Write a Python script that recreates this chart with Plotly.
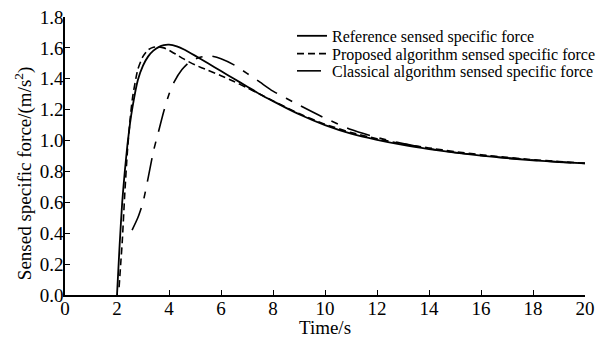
import plotly.graph_objects as go

# Reference sensed specific force
t_ref = [2.0, 2.1, 2.2, 2.3, 2.4, 2.5, 2.6, 2.8, 3.0, 3.2, 3.4, 3.6, 3.8, 4.0, 4.3, 4.6,
         5.0, 5.5, 6.0, 6.5, 7.0, 7.5, 8.0, 9.0, 10.0, 11.0, 12.0, 13.0, 14.0, 15.0,
         16.0, 17.0, 18.0, 19.0, 20.0]
f_ref = [0.0, 0.32, 0.6, 0.8, 0.97, 1.11, 1.22, 1.39, 1.485, 1.545, 1.582, 1.605, 1.618, 1.621, 1.61, 1.588,
         1.55, 1.5, 1.45, 1.4, 1.35, 1.3, 1.255, 1.17, 1.1, 1.045, 1.005, 0.972, 0.945, 0.922,
         0.902, 0.886, 0.872, 0.861, 0.852]

# Proposed algorithm sensed specific force
t_prop = [2.08, 2.15, 2.2, 2.3, 2.4, 2.5, 2.6, 2.8, 3.0, 3.2, 3.4, 3.6, 3.8, 4.0, 4.3, 4.6,
          5.0, 5.5, 6.0, 6.5, 7.0, 7.5, 8.0, 9.0, 10.0, 11.0, 12.0, 13.0, 14.0, 15.0,
          16.0, 17.0, 18.0, 19.0, 20.0]
f_prop = [0.05, 0.22, 0.34, 0.66, 0.93, 1.13, 1.28, 1.46, 1.545, 1.588, 1.604, 1.606, 1.6, 1.585, 1.555, 1.525,
          1.49, 1.455, 1.42, 1.382, 1.342, 1.3, 1.257, 1.175, 1.106, 1.052, 1.012, 0.978, 0.952, 0.928,
          0.908, 0.891, 0.876, 0.864, 0.853]

# Classical algorithm sensed specific force
t_cls = [2.58, 2.8, 3.0, 3.2, 3.4, 3.6, 3.8, 4.0, 4.2, 4.5, 4.8, 5.2, 5.6, 6.0, 6.5, 7.0,
         7.5, 8.0, 9.0, 10.0, 11.0, 12.0, 13.0, 14.0, 15.0, 16.0, 17.0, 18.0, 19.0, 20.0]
f_cls = [0.42, 0.5, 0.6, 0.76, 0.93, 1.06, 1.19, 1.3, 1.38, 1.46, 1.51, 1.54, 1.548, 1.53, 1.49, 1.435,
         1.378, 1.32, 1.23, 1.145, 1.072, 1.02, 0.98, 0.948, 0.923, 0.903, 0.887, 0.873, 0.861, 0.852]

x_ticks = list(range(0, 21, 2))
y_ticks = [round(i * 0.2, 1) for i in range(10)]

serif = "Liberation Serif"
leg_font = dict(family=serif, size=16, color="black")

fig = go.Figure()
fig.add_trace(go.Scatter(x=t_ref, y=f_ref, mode="lines", name="Reference sensed specific force",
                         legend="legend",
                         line=dict(color="black", width=1.8, shape="spline", smoothing=0.6)))
fig.add_trace(go.Scatter(x=t_prop, y=f_prop, mode="lines", name="Proposed algorithm sensed specific force",
                         legend="legend2",
                         line=dict(color="black", width=1.6, dash="7px,4px", shape="spline", smoothing=0.6)))
fig.add_trace(go.Scatter(x=t_cls, y=f_cls, mode="lines", name="Classical algorithm sensed specific force",
                         legend="legend3",
                         line=dict(color="black", width=1.6, dash="24px,10px,7px,10px", shape="spline", smoothing=0.6)))

leg_common = dict(x=0.4365, xanchor="left", yanchor="middle", bgcolor="rgba(0,0,0,0)",
                  font=leg_font, borderwidth=0, itemwidth=30)

fig.update_layout(
    width=611, height=338,
    margin=dict(l=65, r=26, t=17, b=43, autoexpand=False),
    paper_bgcolor="white", plot_bgcolor="white",
    font=dict(family=serif, color="black"),
    showlegend=True,
    legend=dict(y=0.932, **leg_common),
    legend2=dict(y=0.868, **leg_common),
    legend3=dict(y=0.806, **leg_common),
    annotations=[dict(text="Sensed specific force/(m/s<sup>2</sup>)", textangle=-90,
                      xref="paper", yref="paper", x=-0.0795, y=0.437,
                      xanchor="center", yanchor="middle", showarrow=False,
                      font=dict(family=serif, size=19, color="black"))],
)
fig.update_xaxes(range=[0, 20], tickmode="array", tickvals=x_ticks,
                 ticks="inside", ticklen=5, tickwidth=1.3, tickcolor="black",
                 showline=True, linecolor="black", linewidth=1.6, showgrid=False, zeroline=False,
                 ticklabelstandoff=-5,
                 tickfont=dict(family=serif, size=19, color="black"),
                 title=dict(text="Time/s", font=dict(family=serif, size=19, color="black"), standoff=0))
fig.update_yaxes(range=[0, 1.8], tickmode="array", tickvals=y_ticks,
                 tickformat=".1f",
                 ticks="inside", ticklen=5, tickwidth=1.3, tickcolor="black",
                 showline=True, linecolor="black", linewidth=1.6, showgrid=False, zeroline=False,
                 ticklabelstandoff=-4,
                 tickfont=dict(family=serif, size=19, color="black"))

fig.write_html("out.html")
